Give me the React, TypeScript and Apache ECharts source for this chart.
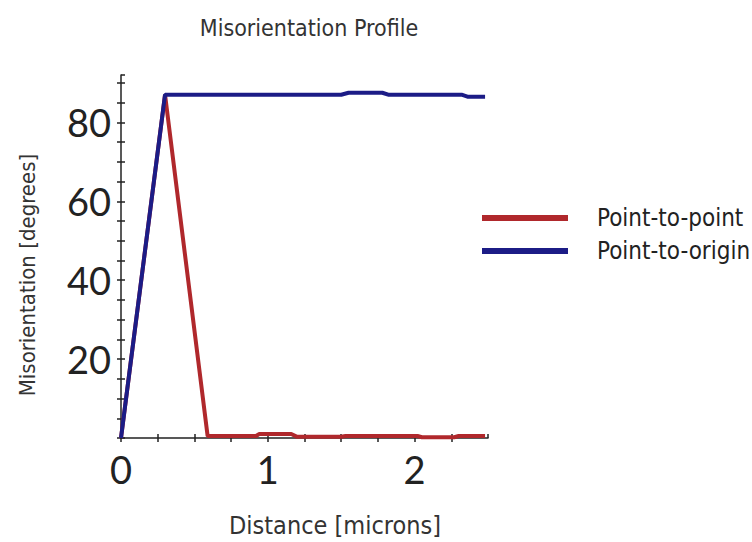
import React, { useEffect, useRef } from "react";
import * as echarts from "echarts";

const pointToPoint: [number, number][] = [
  [0, 0], [0.3, 87.0], [0.59, 0.5], [0.92, 0.5], [0.94, 1.0], [1.16, 1.0],
  [1.2, 0.3], [1.5, 0.3], [1.53, 0.5], [2.02, 0.5], [2.05, 0.2], [2.27, 0.2],
  [2.3, 0.5], [2.48, 0.5],
];
const pointToOrigin: [number, number][] = [
  [0, 0], [0.3, 87.0], [1.5, 87.0], [1.55, 87.5], [1.78, 87.5], [1.82, 87.0],
  [2.32, 87.0], [2.36, 86.5], [2.48, 86.5],
];
const xLabels = [0, 1, 2];
const yLabels = [20, 40, 60, 80];
const titleText = "Misorientation Profile";
const xName = "Distance [microns]";
const yName = "Misorientation [degrees]";

const RED = "#b0282c";
const BLUE = "#1c1c86";
const TEXT_FONT = "DejaVu Sans Condensed";

export default function App() {
  const ref = useRef<HTMLDivElement>(null);
  useEffect(() => {
    if (!ref.current) return;
    const chart = echarts.init(ref.current, undefined, { renderer: "svg" });
    const xBase = {
      type: "value" as const,
      min: 0,
      max: 2.5,
      interval: 0.25,
      splitLine: { show: false },
    };
    const yBase = {
      type: "value" as const,
      min: 0,
      max: 92,
      interval: 5,
      splitLine: { show: false },
    };
    const tickStyle = { color: "#222", width: 1.5 };
    const centered = {
      align: "center",
      verticalAlign: "middle",
      textAlign: "center",
      textVerticalAlign: "middle",
    };
    chart.setOption({
      animation: false,
      backgroundColor: "#ffffff",
      graphic: [
        {
          type: "text",
          x: 309,
          y: 28,
          style: { text: titleText, font: `23px "${TEXT_FONT}"`, fill: "#333", ...centered },
        },
        {
          type: "text",
          x: 335,
          y: 525,
          style: { text: xName, font: `25px "${TEXT_FONT}"`, fill: "#333", ...centered },
        },
        {
          type: "text",
          x: 27,
          y: 275,
          rotation: Math.PI / 2,
          style: { text: yName, font: `22px "${TEXT_FONT}"`, fill: "#333", ...centered },
        },
      ],
      legend: {
        orient: "vertical",
        left: 477,
        top: 200,
        itemWidth: 86,
        itemHeight: 6,
        itemGap: 7,
        icon: "rect",
        textStyle: {
          fontFamily: TEXT_FONT,
          fontSize: 24,
          lineHeight: 26,
          color: "#222",
          padding: [0, 0, 0, 24],
        },
        data: ["Point-to-point", "Point-to-origin"],
      },
      grid: { left: 121, top: 75, right: 264, bottom: 104, containLabel: false },
      xAxis: [
        {
          ...xBase,
          axisLine: { show: true, onZero: false, lineStyle: tickStyle },
          axisTick: { show: true, length: 4, lineStyle: tickStyle },
          axisLabel: {
            margin: 12,
            fontFamily: "Lato",
            fontSize: 38,
            color: "#222",
            showMaxLabel: false,
            formatter: (v: number) => (xLabels.includes(v) ? String(v) : ""),
          },
        },
        {
          ...xBase,
          position: "bottom",
          axisLine: { show: false },
          axisTick: { show: true, inside: true, length: 4, lineStyle: tickStyle },
          axisLabel: { show: false },
        },
      ],
      yAxis: [
        {
          ...yBase,
          axisLine: { show: true, onZero: false, lineStyle: tickStyle },
          axisTick: { show: true, length: 4, lineStyle: tickStyle },
          axisLabel: {
            margin: 10,
            fontFamily: "Lato",
            fontSize: 38,
            color: "#222",
            showMaxLabel: false,
            formatter: (v: number) => (yLabels.includes(v) ? String(v) : ""),
          },
        },
        {
          ...yBase,
          position: "left",
          axisLine: { show: false },
          axisTick: { show: true, inside: true, length: 4, lineStyle: tickStyle },
          axisLabel: { show: false },
        },
      ],
      series: [
        {
          name: "Point-to-point",
          type: "line",
          data: pointToPoint,
          symbol: "none",
          color: RED,
          lineStyle: { color: RED, width: 4 },
        },
        {
          name: "Point-to-origin",
          type: "line",
          data: pointToOrigin,
          symbol: "none",
          color: BLUE,
          lineStyle: { color: BLUE, width: 4 },
        },
      ],
    });
    return () => chart.dispose();
  }, []);
  return <div ref={ref} style={{ width: 752, height: 542, position: "absolute", left: 0, top: 0 }} />;
}
